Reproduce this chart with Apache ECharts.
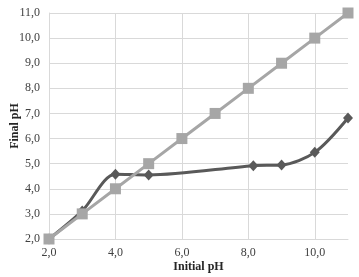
<!DOCTYPE html>
<html>
<head>
<meta charset="utf-8">
<script src="https://cdn.jsdelivr.net/npm/echarts@6/dist/echarts.min.js"></script>
<style>
  html, body { margin: 0; padding: 0; background: #fff; }
  #chart { width: 359px; height: 277px; }
</style>
</head>
<body>
<div id="chart"></div>
<script>
// reference line (final = initial)
const refX = [2, 3, 4, 5, 6, 7, 8, 9, 10, 11];
const refY = [2, 3, 4, 5, 6, 7, 8, 9, 10, 11];
// measured final pH
const measX = [2, 3, 4, 5, 8.15, 9, 10, 11];
const measY = [2, 3.12, 4.58, 4.55, 4.92, 4.95, 5.45, 6.82];

const fmt = (v) => v.toFixed(1).replace('.', ',');
const zip = (xs, ys) => xs.map((x, i) => [x, ys[i]]);

const gridColor = '#d9d9d9';
const labelFont = { fontFamily: 'Liberation Serif', fontSize: 12, color: '#404040' };
const nameFont = { fontFamily: 'Liberation Serif', fontSize: 12, fontWeight: 'bold', color: '#262626' };

const chart = echarts.init(document.getElementById('chart'), null, { renderer: 'canvas' });

chart.setOption({
  backgroundColor: '#fff',
  animation: false,
  grid: { left: 49, right: 11, top: 13, bottom: 38, outerBoundsMode: 'none', containLabel: false },
  xAxis: {
    type: 'value',
    min: 2,
    max: 11,
    interval: 2,
    name: 'Initial pH',
    nameLocation: 'middle',
    nameGap: 22,
    nameMoveOverlap: false,
    nameTextStyle: nameFont,
    axisLine: { show: true, lineStyle: { color: gridColor, width: 1 } },
    axisTick: { show: false },
    axisLabel: { ...labelFont, margin: 8, showMaxLabel: false, formatter: fmt },
    splitLine: { show: true, showMaxLine: false, lineStyle: { color: gridColor, width: 1 } },
  },
  yAxis: {
    type: 'value',
    min: 2,
    max: 11,
    interval: 1,
    name: 'Final pH',
    nameLocation: 'middle',
    nameGap: 28,
    nameMoveOverlap: false,
    nameTextStyle: nameFont,
    axisLine: { show: true, lineStyle: { color: gridColor, width: 1 } },
    axisTick: { show: false },
    axisLabel: { ...labelFont, margin: 9, formatter: fmt },
    splitLine: { show: true, lineStyle: { color: gridColor, width: 1 } },
  },
  series: [
    {
      type: 'line',
      data: zip(measX, measY),
      smooth: 0.3,
      symbol: 'diamond',
      symbolSize: [10, 11],
      itemStyle: { color: '#595959' },
      lineStyle: { color: '#595959', width: 3 },
      z: 2,
    },
    {
      type: 'line',
      data: zip(refX, refY),
      symbol: 'rect',
      symbolSize: 11,
      itemStyle: { color: '#a6a6a6' },
      lineStyle: { color: '#a6a6a6', width: 3 },
      z: 3,
    },
  ],
});
</script>
</body>
</html>
